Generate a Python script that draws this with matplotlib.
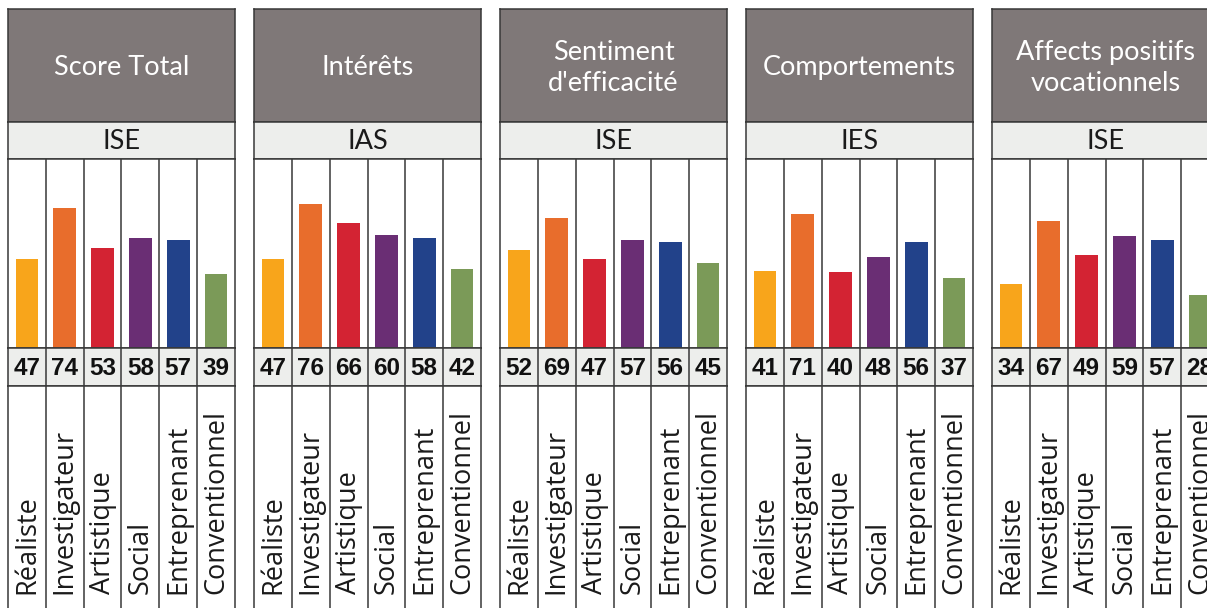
import numpy as np
import matplotlib
matplotlib.use("Agg")
import matplotlib.pyplot as plt

# donnees
titres = ["Score Total", "Intérêts", "Sentiment\nd'efficacité", "Comportements",
          "Affects positifs\nvocationnels"]
indices = ["ISE", "IAS", "ISE", "IES", "ISE"]
types = ["Réaliste", "Investigateur", "Artistique", "Social", "Entreprenant", "Conventionnel"]
score_total = [47, 74, 53, 58, 57, 39]
interets = [47, 76, 66, 60, 58, 42]
sentiment = [52, 69, 47, 57, 56, 45]
comportements = [41, 71, 40, 48, 56, 37]
affects = [34, 67, 49, 59, 57, 28]
scores = [score_total, interets, sentiment, comportements, affects]
couleurs = ["#F8A51B", "#E86D2C", "#D32333", "#6A2E74", "#22428A", "#7B9A58"]

W, H = 1207, 608
GRIS = "#7F7878"
CLAIR = "#EDEEEC"
TRAIT = "#383838"


def box(x, y, w, h):
    # pixels (origine en haut a gauche) -> fraction de figure
    return [x / W, 1 - (y + h) / H, w / W, h / H]


def cadre(ax, bas=True):
    ax.set_xticks([])
    ax.set_yticks([])
    for nom, s in ax.spines.items():
        s.set_color(TRAIT)
        s.set_linewidth(1.1)
    if not bas:
        ax.spines["bottom"].set_visible(False)


def separateurs(ax):
    for k in range(5):
        ax.axvline(k + 0.5, color=TRAIT, lw=1.1)


fig = plt.figure(figsize=(W / 100, H / 100), dpi=100)
x_pos = np.arange(len(types))

for i in range(len(titres)):
    x0 = 8 + 246 * i
    pw = 227

    # bandeau titre
    ax = fig.add_axes(box(x0, 9, pw, 113))
    ax.set_facecolor(GRIS)
    cadre(ax)
    ax.text(0.5, 0.48, titres[i], transform=ax.transAxes, ha="center", va="center",
            color="white", fontsize=19.5, family="Lato", linespacing=1.3)

    # indice
    ax = fig.add_axes(box(x0, 122, pw, 37))
    ax.set_facecolor(CLAIR)
    cadre(ax)
    ax.text(0.5, 0.47, indices[i], transform=ax.transAxes, ha="center", va="center",
            color="#1a1a1a", fontsize=19.5, family="Lato")

    # barres
    ax = fig.add_axes(box(x0, 159, pw, 189))
    ax.bar(x_pos, scores[i], width=0.6, color=couleurs)
    ax.set_xlim(-0.5, 5.5)
    ax.set_ylim(0, 100)
    separateurs(ax)
    cadre(ax)

    # valeurs
    ax = fig.add_axes(box(x0, 348, pw, 38))
    ax.set_facecolor(CLAIR)
    ax.set_xlim(-0.5, 5.5)
    ax.set_ylim(0, 1)
    separateurs(ax)
    cadre(ax)
    for k, v in enumerate(scores[i]):
        ax.text(k, 0.47, str(v), ha="center", va="center", fontsize=17.5,
                fontweight="bold", family="Liberation Sans", color="#111111")

    # libelles
    ax = fig.add_axes(box(x0, 386, pw, 240))
    ax.set_xlim(-0.5, 5.5)
    ax.set_ylim(0, 240)
    separateurs(ax)
    cadre(ax, bas=False)
    for k, lab in enumerate(types):
        ax.text(k, 240 - 208, lab, rotation=90, ha="center", va="bottom",
                fontsize=19.5, family="Open Sans", color="#1a1a1a")

fig.savefig("out.png", dpi=100)
